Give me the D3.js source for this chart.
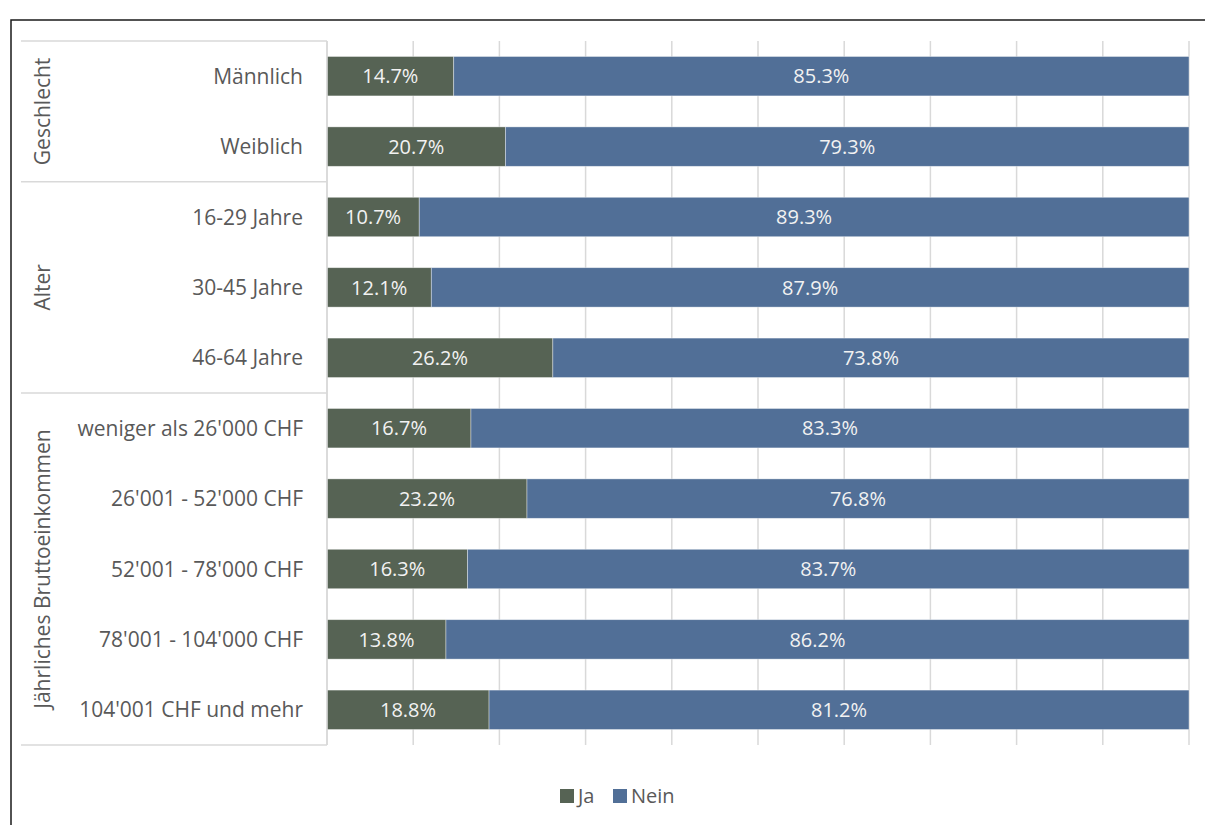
<!DOCTYPE html>
<html>
<head>
<meta charset="utf-8">
<script src="https://cdn.jsdelivr.net/npm/d3@7"></script>
<style>
  html, body { margin: 0; padding: 0; background: #fff; overflow: hidden; }
  svg { display: block; font-family: "Open Sans", sans-serif; }
</style>
</head>
<body>
<script>
const categories = [
  "Männlich", "Weiblich",
  "16-29 Jahre", "30-45 Jahre", "46-64 Jahre",
  "weniger als 26'000 CHF", "26'001 - 52'000 CHF", "52'001 - 78'000 CHF",
  "78'001 - 104'000 CHF", "104'001 CHF und mehr"
];
const ja = [14.7, 20.7, 10.7, 12.1, 26.2, 16.7, 23.2, 16.3, 13.8, 18.8];
const nein = [85.3, 79.3, 89.3, 87.9, 73.8, 83.3, 76.8, 83.7, 86.2, 81.2];
const groupNames = ["Geschlecht", "Alter", "Jährliches Bruttoeinkommen"];
const groupSizes = [2, 3, 5];
const seriesNames = ["Ja", "Nein"];
const seriesColors = ["#566354", "#516f97"];

const width = 1205, height = 825;

const svg = d3.select("body").append("svg")
  .attr("width", width)
  .attr("height", height);

// outer frame, runs past the right and bottom edge
svg.append("rect")
  .attr("x", 11).attr("y", 20)
  .attr("width", 1210).attr("height", 820)
  .attr("fill", "none")
  .attr("stroke", "#1a1a1a")
  .attr("stroke-width", 1.5);

const x = d3.scaleLinear().domain([0, 100]).range([327, 1189]);
const y = d3.scaleBand().domain(categories).range([41, 745]).paddingInner(0.44).paddingOuter(0.22);

// vertical gridlines
svg.append("g").selectAll("line")
  .data(x.ticks(10))
  .enter().append("line")
  .attr("x1", d => x(d)).attr("x2", d => x(d))
  .attr("y1", 41).attr("y2", 745)
  .attr("stroke", "#d9d9d9")
  .attr("stroke-width", 1.5);

// stacked bars
const rows = categories.map((c, i) => ({cat: c, Ja: ja[i], Nein: nein[i]}));
const series = d3.stack().keys(seriesNames)(rows);

const layer = svg.append("g").selectAll("g")
  .data(series)
  .enter().append("g")
  .attr("fill", (d, i) => seriesColors[i]);

layer.selectAll("rect")
  .data(d => d)
  .enter().append("rect")
  .attr("x", d => x(d[0]))
  .attr("y", d => y(d.data.cat))
  .attr("width", d => x(d[1]) - x(d[0]))
  .attr("height", y.bandwidth())
  .attr("stroke", "#ffffff")
  .attr("stroke-opacity", 0.5)
  .attr("stroke-width", 0.75);

layer.selectAll("text")
  .data(d => d.map(v => ({v: v, key: d.key})))
  .enter().append("text")
  .attr("x", d => (x(d.v[0]) + x(d.v[1])) / 2)
  .attr("y", d => y(d.v.data.cat) + y.bandwidth() / 2)
  .attr("dy", "0.36em")
  .attr("text-anchor", "middle")
  .attr("fill", "#f2f2f2")
  .attr("font-size", "20px")
  .text(d => d.v.data[d.key].toFixed(1) + "%");

// category labels
svg.append("g").selectAll("text")
  .data(categories)
  .enter().append("text")
  .attr("x", 303)
  .attr("y", d => y(d) + y.bandwidth() / 2)
  .attr("dy", "0.36em")
  .attr("text-anchor", "end")
  .attr("fill", "#595959")
  .attr("font-size", "21px")
  .text(d => d);

// group labels and separators
const step = y.step();
let start = 0;
const bounds = [41];
groupNames.forEach((g, i) => {
  const y0 = 41 + start * step;
  const y1 = 41 + (start + groupSizes[i]) * step;
  bounds.push(y1);
  svg.append("text")
    .attr("transform", `translate(42, ${(y0 + y1) / 2}) rotate(-90)`)
    .attr("dy", "0.36em")
    .attr("text-anchor", "middle")
    .attr("fill", "#595959")
    .attr("font-size", "21px")
    .text(g);
  start += groupSizes[i];
});

svg.append("g").selectAll("line")
  .data(bounds)
  .enter().append("line")
  .attr("x1", 21).attr("x2", 327)
  .attr("y1", d => d).attr("y2", d => d)
  .attr("stroke", "#d9d9d9")
  .attr("stroke-width", 1.5);

svg.append("line")
  .attr("x1", 327).attr("x2", 327)
  .attr("y1", 41).attr("y2", 745)
  .attr("stroke", "#d9d9d9")
  .attr("stroke-width", 1.5);

// legend
const legend = svg.append("g").attr("transform", "translate(560, 796)");
const legendX = [0, 53];
seriesNames.forEach((s, i) => {
  legend.append("rect")
    .attr("x", legendX[i]).attr("y", -7)
    .attr("width", 14).attr("height", 14)
    .attr("fill", seriesColors[i]);
  legend.append("text")
    .attr("x", legendX[i] + 18)
    .attr("y", 0)
    .attr("dy", "0.36em")
    .attr("fill", "#595959")
    .attr("font-size", "20px")
    .text(s);
});
</script>
</body>
</html>
